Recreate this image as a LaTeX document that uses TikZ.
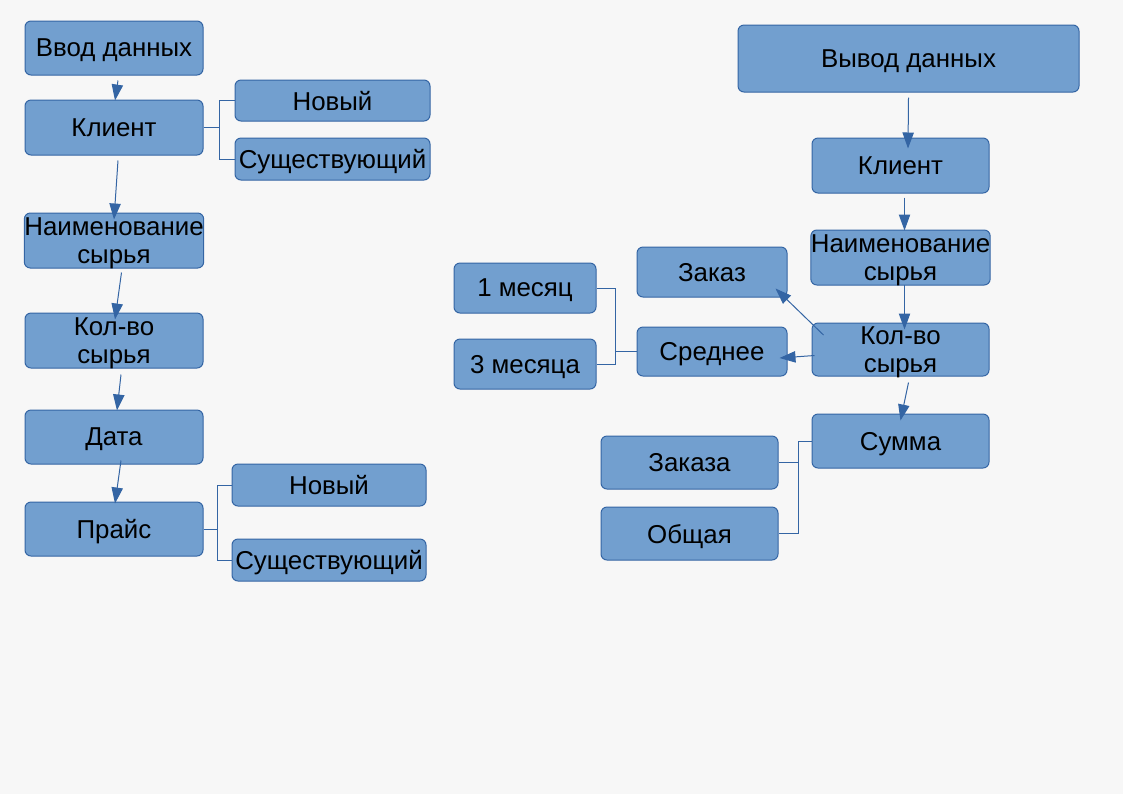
\documentclass[tikz,border=0pt]{standalone}
\usepackage{fontspec}
\setmainfont{Liberation Sans}
\usetikzlibrary{calc,arrows.meta}
\definecolor{zalivka}{HTML}{729FCF}
\definecolor{kontur}{HTML}{3465A4}
\definecolor{fon}{HTML}{F7F7F7}
\begin{document}
\begin{tikzpicture}[x=0.75pt, y=-0.75pt,
        >={Triangle[length=12pt,width=8.5pt]},
        blok/.style={draw=kontur, line width=0.75pt, fill=zalivka, rounded corners=4.5pt, inner sep=0pt, text depth=0pt, align=center, font=\fontsize{19.4}{21.3}\selectfont},
        razmer/.style 2 args={minimum width=#1*0.75pt, minimum height=#2*0.75pt},
        svyaz/.style={draw=kontur, line width=0.75pt}]
        \fill [fon] (0,0) rectangle (1123,794);
        \useasboundingbox (0,0) rectangle (1123,794);
        \node [blok, razmer={178}{54}] (vvod) at (114,48) {Ввод данных};
        \node [blok, razmer={178}{55}] (klient) at (114,127.5) {Клиент};
        \node [blok, razmer={195}{41}] (novyA) at (332.5,100.5) {Новый};
        \node [blok, razmer={195}{42}] (sushA) at (332.5,159) {Существующий};
        \node [blok, razmer={178}{55}] (naim) at (114,240.5) {Наименование\\сырья};
        \node [blok, razmer={178}{55}] (kolvo) at (114,340.5) {Кол-во\\сырья};
        \node [blok, razmer={178}{54}] (data) at (114,437) {Дата};
        \node [blok, razmer={178}{54}] (prais) at (114,529) {Прайс};
        \node [blok, razmer={194}{42}] (novyB) at (329,485) {Новый};
        \node [blok, razmer={194}{42}] (sushB) at (329,560) {Существующий};
        \draw [svyaz, ->] ($ (vvod.south) + (4,5) $) -- ($ (klient.north) + (1,1) $);
        \draw [svyaz, ->] ($ (klient.south) + (4,5) $) -- ($ (naim.north) + (0,7) $);
        \draw [svyaz, ->] ($ (naim.south) + (7.5,4) $) -- ($ (kolvo.north) + (1,7) $);
        \draw [svyaz, ->] ($ (kolvo.south) + (7,6) $) -- ($ (data.north) + (3,1) $);
        \draw [svyaz, ->] ($ (data.south) + (7,-4) $) -- ($ (prais.north) + (1,2) $);
        \draw [svyaz] (klient.east) -- ++(16,0) |- (novyA.west);
        \draw [svyaz] (klient.east) -- ++(16,0) |- (sushA.west);
        \draw [svyaz] (prais.east) -- ++(14,0) |- (novyB.west);
        \draw [svyaz] (prais.east) -- ++(14,0) |- (sushB.west);
        \node [blok, razmer={341}{67}] (vyvod) at (908.5,58.5) {Вывод данных};
        \node [blok, razmer={177}{55}] (klientR) at (900.5,165.5) {Клиент};
        \node [blok, razmer={177}{55}] (naimR) at (900.5,257.5) {Наименование\\сырья};
        \node [blok, razmer={177}{53}] (kolvoR) at (900.5,349.5) {Кол-во\\сырья};
        \node [blok, razmer={177}{54}] (summa) at (900.5,441) {Сумма};
        \node [blok, razmer={150}{50}] (zakaz) at (712,272) {Заказ};
        \node [blok, razmer={150}{49}] (sredn) at (712,351.5) {Среднее};
        \node [blok, razmer={142}{50}] (mes1) at (525,288) {1 месяц};
        \node [blok, razmer={142}{50}] (mes3) at (525,364) {3 месяца};
        \node [blok, razmer={177}{53}] (zakaza) at (689.5,462.5) {Заказа};
        \node [blok, razmer={177}{53}] (obsh) at (689.5,533.5) {Общая};
        \draw [svyaz, ->] ($ (vyvod.south) + (0,5) $) -- ($ (klientR.north) + (7.5,11) $);
        \draw [svyaz, ->] ($ (klientR.south) + (4,4) $) -- ($ (naimR.north) + (4,1) $);
        \draw [svyaz, ->] ($ (naimR.south) + (4,-1) $) -- ($ (kolvoR.north) + (4,7) $);
        \draw [svyaz, ->] ($ (kolvoR.south) + (8,6) $) -- ($ (summa.north) + (0,7) $);
        \draw [svyaz, ->] ($ (kolvoR.west) + (12,-14.5) $) -- ($ (zakaz.south east) + (-12,-9) $);
        \draw [svyaz, ->] ($ (kolvoR.west) + (3,6) $) -- ($ (sredn.east) + (-8,6.5) $);
        \draw [svyaz] (sredn.west) -- ++(-21,0) |- (mes1.east);
        \draw [svyaz] (sredn.west) -- ++(-21,0) |- (mes3.east);
        \draw [svyaz] (summa.west) -- ++(-13,0) |- (zakaza.east);
        \draw [svyaz] (summa.west) -- ++(-13,0) |- (obsh.east);
\end{tikzpicture}
\end{document}
